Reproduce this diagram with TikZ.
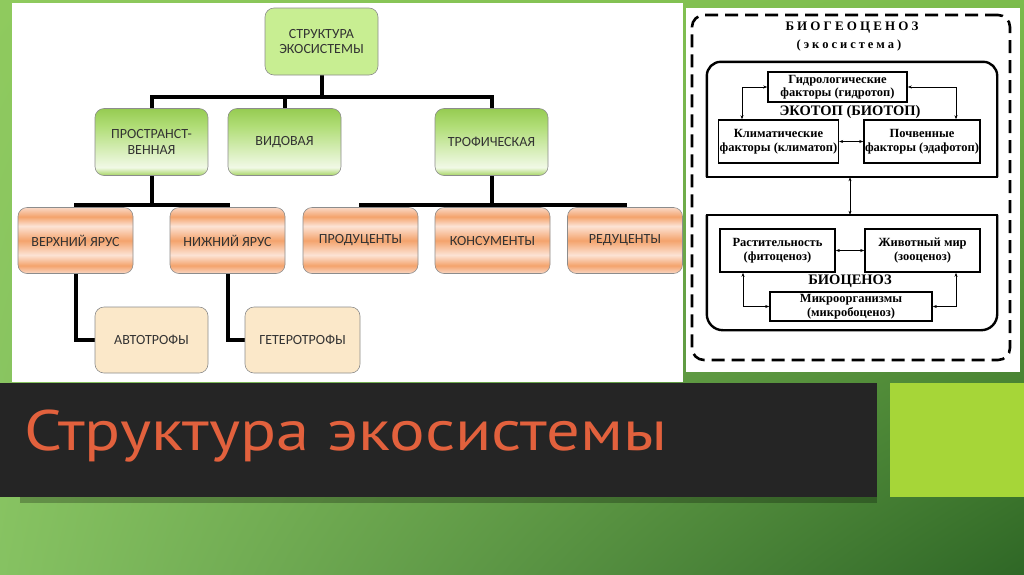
\documentclass[tikz,border=0pt]{standalone}
\usepackage{fontspec}
\setmainfont{Liberation Serif}
\newfontfamily\boxfont{Carlito}
\newfontfamily\titlefont{PT Sans}
\newfontfamily\spacedfont[LetterSpace=24]{Liberation Serif}
\usetikzlibrary{arrows.meta,shadings}
\pgfdeclarelayer{bglayer}
\pgfdeclarelayer{connlayer}
\pgfsetlayers{bglayer,connlayer,main}
\definecolor{gA}{HTML}{A6D463}
\definecolor{gW}{HTML}{F1F9E6}
\definecolor{gM}{HTML}{D2ECB0}
\definecolor{gB}{HTML}{B0DD76}
\definecolor{gT}{HTML}{96CB52}
\definecolor{oP}{HTML}{F9D8C6}
\definecolor{oO}{HTML}{F4A36C}
\definecolor{oL}{HTML}{FCE3D5}
\definecolor{rootg}{HTML}{C8EE92}
\definecolor{beige}{HTML}{FBE8C9}
\definecolor{darkbox}{HTML}{252525}
\definecolor{lime}{HTML}{A6D638}
\definecolor{titlec}{HTML}{E2613D}
\definecolor{bgUL}{HTML}{8FCA5E}
\definecolor{bgUR}{HTML}{7CBC4C}
\definecolor{bgLL}{HTML}{86C262}
\definecolor{bgLR}{HTML}{2F6726}
\pgfdeclareverticalshading{greenshade}{100bp}{color(0bp)=(gA); color(25bp)=(gA); color(31bp)=(gW); color(46bp)=(gM); color(62bp)=(gB); color(75bp)=(gT); color(100bp)=(gT)}
\pgfdeclareverticalshading{orangeshade}{100bp}{color(0bp)=(oP); color(25bp)=(oP); color(31bp)=(oO); color(39bp)=(oL); color(50bp)=(oO); color(61bp)=(oL); color(68bp)=(oO); color(75bp)=(oP); color(100bp)=(oP)}
\tikzset{
  lbox/.style={rounded corners=9pt, draw=black!45, line width=0.6pt, minimum width=113pt, minimum height=67pt, align=center, text=black!80, font=\boxfont\fontsize{14}{16}\selectfont},
  gbox/.style={lbox, shading=greenshade},
  obox/.style={lbox, shading=orangeshade, minimum height=66pt, minimum width=115pt},
  bbox/.style={lbox, fill=beige, minimum height=66pt},
  conn/.style={line width=4pt, black},
  rbox/.style={draw, line width=1.6pt, align=center, inner sep=1pt, font=\bfseries\fontsize{12.5}{13.5}\selectfont},
  darr/.style={{Stealth[length=4pt,width=3pt]}-{Stealth[length=4pt,width=3pt]}, line width=0.5pt},
  lbl/.style={font=\bfseries\fontsize{14.5}{15}\selectfont, inner sep=0pt}
}
\begin{document}
\begin{tikzpicture}[x=1pt,y=-1pt]
\useasboundingbox (0,0) rectangle (1024,574);
\begin{pgfonlayer}{bglayer}
\shade[upper left=bgUL, upper right=bgUR, lower left=bgLL, lower right=bgLR] (0,0) rectangle (1024,574);
\fill[white] (12,3) rectangle (683,382);
\fill[white] (686,8) rectangle (1020,372);
\fill[black, opacity=0.25] (20,497) rectangle (877,503);
\fill[darkbox] (0,383) rectangle (877,497);
\fill[lime] (890,383) rectangle (1024,497);
\end{pgfonlayer}
\node[anchor=west, text=titlec, font=\titlefont\fontsize{57}{60}\selectfont, inner sep=0pt] (title) at (24,436) {\scalebox{1.17}[1]{Структура экосистемы}};

% ---- left tree ----
\node[lbox, fill=rootg] (root) at (321.5,41.5) {СТРУКТУРА\\ЭКОСИСТЕМЫ};
\node[gbox] (A) at (151.5,142) {ПРОСТРАНСТ-\\ВЕННАЯ};
\node[gbox] (B) at (284.5,142) {ВИДОВАЯ};
\node[gbox] (C) at (491.5,142) {ТРОФИЧЕСКАЯ};
\node[obox] (L1) at (75.5,240.5) {ВЕРХНИЙ ЯРУС};
\node[obox] (L2) at (227.5,240.5) {НИЖНИЙ ЯРУС};
\node[obox] (P) at (360.5,240.5) {ПРОДУЦЕНТЫ};
\node[obox] (K) at (492.5,240.5) {КОНСУМЕНТЫ};
\node[obox] (R) at (625,240.5) {РЕДУЦЕНТЫ};
\node[bbox] (AT) at (151.5,340) {АВТОТРОФЫ};
\node[bbox, minimum width=115pt] (HT) at (302.5,340) {ГЕТЕРОТРОФЫ};
\coordinate (bus1) at (321.5,97);
\coordinate (bus2) at (151.5,205);
\coordinate (bus3) at (491.5,205);
\begin{pgfonlayer}{connlayer}
\draw[conn] (root.south) -- (bus1);
\draw[conn] (A.north) |- (bus1) -| (C.north);
\draw[conn] (B.north) -- (B.north |- bus1);
\draw[conn] (A.south) -- (bus2);
\draw[conn] (L1.north) |- (bus2) -| (L2.north);
\draw[conn] (C.south) -- (bus3);
\draw[conn] (P.north) |- (bus3) -| (R.north);
\draw[conn] (K.north) -- (K.north |- bus3);
\draw[conn] (L1.south) |- (AT.west);
\draw[conn] (L2.south) |- (HT.west);
\end{pgfonlayer}

% ---- right scheme ----
\node[draw, dash pattern=on 13pt off 7pt, line width=2.6pt, rounded corners=12pt, minimum width=318pt, minimum height=345pt] (bgc) at (851,187.5) {};
\node[font=\spacedfont\bfseries\fontsize{13}{14}\selectfont, inner sep=0pt] (t1) at (852,28) {БИОГЕОЦЕНОЗ};
\node[font=\spacedfont\bfseries\fontsize{12.5}{14}\selectfont, inner sep=0pt] (t2) at (849,45) {(экосистема)};
\node[minimum width=290pt, minimum height=115pt, inner sep=0pt] (eko) at (852,119.5) {};
\draw[line width=2.4pt, rounded corners=14pt] (eko.south west) -- (eko.north west) -- (eko.north east) -- (eko.south east);
\draw[line width=2.4pt, line cap=rect] (eko.south west) -- (eko.south east);
\node[minimum width=290pt, minimum height=115pt, inner sep=0pt] (bio) at (852,272.5) {};
\draw[line width=2.4pt, rounded corners=16pt] (bio.north west) -- (bio.south west) -- (bio.south east) -- (bio.north east);
\draw[line width=2.4pt, line cap=rect] (bio.north west) -- (bio.north east);

\node[rbox, minimum width=139pt, minimum height=30pt] (gid) at (837.5,87) {Гидрологические\\факторы (гидротоп)};
\node[lbl] (ekl) at (850,112) {ЭКОТОП (БИОТОП)};
\node[rbox, minimum width=117pt, minimum height=43pt] (klim) at (778.5,141.5) {Климатические\\факторы (климатоп)};
\node[rbox, minimum width=116pt, minimum height=43pt] (poch) at (922,141.5) {Почвенные\\факторы (эдафотоп)};
\node[rbox, minimum width=115pt, minimum height=43pt] (rast) at (777.5,250.5) {Растительность\\(фитоценоз)};
\node[rbox, minimum width=115pt, minimum height=43pt] (zhiv) at (922.5,250.5) {Животный мир\\(зооценоз)};
\node[lbl] (bcl) at (850,281) {БИОЦЕНОЗ};
\node[rbox, minimum width=162pt, minimum height=29pt] (mikro) at (851,306.5) {Микроорганизмы\\(микробоценоз)};

\draw[darr] (gid.west) -| ([xshift=-36.5pt]klim.north);
\draw[darr] (gid.east) -| ([xshift=34pt]poch.north);
\draw[darr] (klim.east) -- (poch.west);
\draw[darr] ([xshift=-2pt]eko.south) -- ([xshift=-2pt]bio.north);
\draw[darr] (rast.east) -- (zhiv.west);
\draw[darr] ([xshift=-34.5pt]rast.south) |- (mikro.west);
\draw[darr] ([xshift=33.5pt]zhiv.south) |- (mikro.east);
\end{tikzpicture}
\end{document}
